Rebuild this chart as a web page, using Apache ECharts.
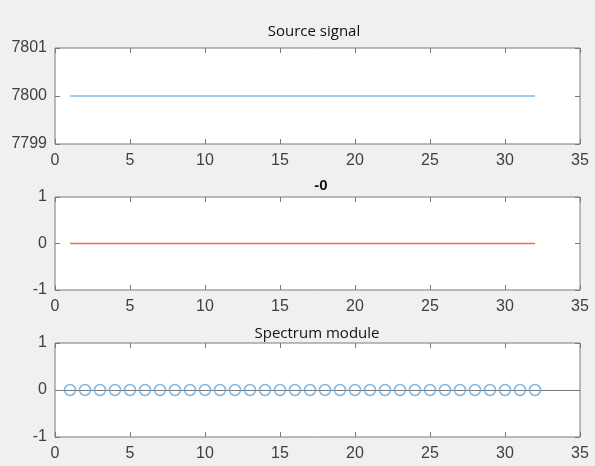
<!DOCTYPE html>
<html>
<head>
<meta charset="utf-8">
<script src="https://cdn.jsdelivr.net/npm/echarts@6/dist/echarts.min.js"></script>
<style>
html,body{margin:0;padding:0;background:#f0f0f0;}
#c{width:595px;height:466px;}
</style>
</head>
<body>
<div id="c"></div>
<script>
// ---- data ----
const sampleIndex = [1,2,3,4,5,6,7,8,9,10,11,12,13,14,15,16,17,18,19,20,21,22,23,24,25,26,27,28,29,30,31,32];
const sourceSignal = [7800,7800,7800,7800,7800,7800,7800,7800,7800,7800,7800,7800,7800,7800,7800,7800,7800,7800,7800,7800,7800,7800,7800,7800,7800,7800,7800,7800,7800,7800,7800,7800];
const secondSignal = [0,0,0,0,0,0,0,0,0,0,0,0,0,0,0,0,0,0,0,0,0,0,0,0,0,0,0,0,0,0,0,0];
const spectrumModule = [0,0,0,0,0,0,0,0,0,0,0,0,0,0,0,0,0,0,0,0,0,0,0,0,0,0,0,0,0,0,0,0];
const titles = ['Source signal', '-0', 'Spectrum module'];
const xRange = {min: 0, max: 35, interval: 5};
const yRanges = [
  {min: 7799, max: 7801, interval: 1},
  {min: -1, max: 1, interval: 1},
  {min: -1, max: 1, interval: 1}
];

// ---- layout / style ----
const grids = [
  {left: 55, top: 48, width: 525, height: 96},
  {left: 55, top: 197, width: 525, height: 93},
  {left: 55, top: 343, width: 525, height: 94}
];
const titleTops = [19, 173, 321];
const titleLefts = [309, 316, 312];
const axisColor = '#7a7a7a';
const labelColor = '#404040';
const labelFont = "'Liberation Sans', Arial, sans-serif";

const pairs = (xs, ys) => xs.map((x, i) => [x, ys[i]]);

const xAxes = [], yAxes = [];
grids.forEach((g, i) => {
  const tick = {show: true, inside: true, length: 5, lineStyle: {color: axisColor, width: 1}};
  const noLine = {show: false, onZero: false};
  xAxes.push({
    type: 'value', gridIndex: i, position: 'bottom',
    min: xRange.min, max: xRange.max, interval: xRange.interval,
    axisLine: noLine, axisTick: tick, splitLine: {show: false},
    axisLabel: {color: labelColor, fontSize: 16, fontFamily: labelFont, margin: 9, showMinLabel: true, showMaxLabel: true}
  });
  xAxes.push({
    type: 'value', gridIndex: i, position: 'top',
    min: xRange.min, max: xRange.max, interval: xRange.interval,
    axisLine: noLine, axisTick: tick, splitLine: {show: false},
    axisLabel: {show: false}
  });
  const yr = yRanges[i];
  yAxes.push({
    type: 'value', gridIndex: i, position: 'left',
    min: yr.min, max: yr.max, interval: yr.interval,
    axisLine: noLine, axisTick: tick, splitLine: {show: false},
    axisLabel: {color: labelColor, fontSize: 16, fontFamily: labelFont, margin: 8,
      showMinLabel: true, showMaxLabel: true, formatter: v => String(v)}
  });
  yAxes.push({
    type: 'value', gridIndex: i, position: 'right',
    min: yr.min, max: yr.max, interval: yr.interval,
    axisLine: noLine, axisTick: tick, splitLine: {show: false},
    axisLabel: {show: false}
  });
});

const option = {
  backgroundColor: '#f0f0f0',
  animation: false,
  title: titles.map((t, i) => ({
    text: t,
    left: titleLefts[i], top: titleTops[i],
    textAlign: 'center',
    textStyle: i === 1
      ? {fontFamily: "'Liberation Sans', Arial, sans-serif", fontWeight: 'bold', fontSize: 15, color: '#111'}
      : {fontFamily: "'Open Sans', 'Noto Sans', sans-serif", fontWeight: 'normal', fontSize: 15, color: '#111'}
  })),
  grid: grids.map(g => Object.assign({show: true, backgroundColor: '#ffffff', borderColor: axisColor, borderWidth: 1}, g)),
  xAxis: xAxes,
  yAxis: yAxes,
  series: [
    {
      type: 'line', xAxisIndex: 0, yAxisIndex: 0,
      data: pairs(sampleIndex, sourceSignal),
      symbol: 'none', itemStyle: {color: '#4a98d4'}, lineStyle: {color: '#4a98d4', width: 1.2}
    },
    {
      type: 'line', xAxisIndex: 2, yAxisIndex: 2,
      data: pairs(sampleIndex, secondSignal),
      symbol: 'none', itemStyle: {color: '#e8774f'}, lineStyle: {color: '#e8774f', width: 1.4}
    },
    {
      type: 'scatter', xAxisIndex: 4, yAxisIndex: 4,
      data: pairs(sampleIndex, spectrumModule),
      symbol: 'circle', symbolSize: 11,
      itemStyle: {color: 'rgba(0,0,0,0)', borderColor: '#5ea4d8', borderWidth: 1.5},
      z: 5,
      markLine: {
        silent: true, symbol: 'none', label: {show: false},
        lineStyle: {color: '#777', type: 'solid', width: 1},
        data: [{yAxis: 0}]
      }
    }
  ]
};

const chart = echarts.init(document.getElementById('c'), null, {renderer: 'canvas'});
chart.setOption(option);
</script>
</body>
</html>
